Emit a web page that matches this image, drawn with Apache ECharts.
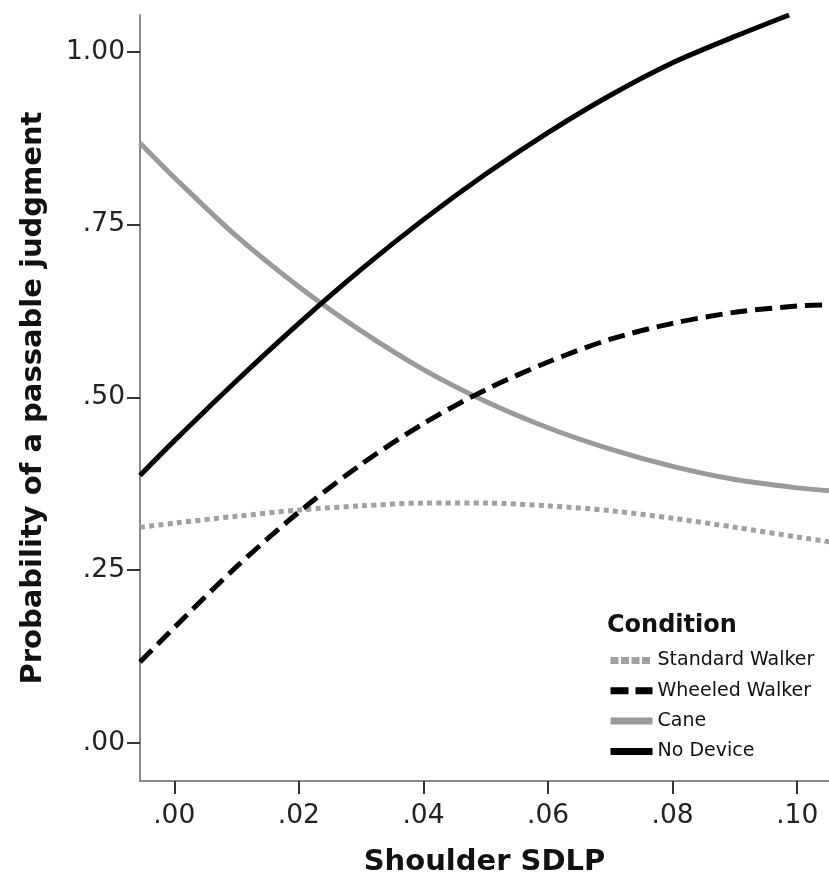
<!DOCTYPE html>
<html>
<head>
<meta charset="utf-8">
<script src="https://cdn.jsdelivr.net/npm/echarts@6/dist/echarts.min.js"></script>
<style>
  html, body { margin: 0; padding: 0; background: #fff; }
  #chart { width: 829px; height: 882px; }
</style>
</head>
<body>
<div id="chart"></div>
<script>
// x positions (Shoulder SDLP) shared by three of the curves
const xValues = [-0.0055, 0, 0.01, 0.02, 0.03, 0.04, 0.05, 0.06, 0.07, 0.08, 0.09, 0.10, 0.1051]
const standardWalker = [0.312, 0.318, 0.328, 0.337, 0.343, 0.347, 0.347, 0.343, 0.336, 0.325, 0.312, 0.298, 0.291]
const wheeledWalker = [0.117, 0.167, 0.255, 0.334, 0.403, 0.462, 0.511, 0.551, 0.584, 0.607, 0.623, 0.632, 0.634]
const cane = [0.868, 0.818, 0.733, 0.660, 0.596, 0.540, 0.494, 0.456, 0.425, 0.400, 0.381, 0.369, 0.365]

// no device runs off the top of the plot, so it has its own x list
const noDeviceX = [-0.0055, 0, 0.01, 0.02, 0.03, 0.04, 0.05, 0.06, 0.07, 0.08, 0.09, 0.0987]
const noDevice = [0.387, 0.437, 0.524, 0.607, 0.685, 0.757, 0.823, 0.883, 0.937, 0.984, 1.022, 1.053]

const xTicks = [0, 0.02, 0.04, 0.06, 0.08, 0.10]
const yTicks = [0, 0.25, 0.50, 0.75, 1.00]

const pairs = (xs, ys) => xs.map((x, i) => [x, ys[i]])
const fmt = (v) => v.toFixed(2).replace(/^0/, '')

const font = 'DejaVu Sans'
const chart = echarts.init(document.getElementById('chart'))

const axisCommon = {
  axisLine: { show: true, onZero: false, lineStyle: { color: '#8a8a8a', width: 2 } },
  splitLine: { show: false },
  nameTextStyle: { fontFamily: font, fontSize: 29, fontWeight: 'bold', color: '#111' }
}
const tickStyle = { show: true, length: 13, lineStyle: { color: '#333', width: 2 } }
const labelStyle = { formatter: fmt, fontFamily: font, fontSize: 26.5, color: '#222' }

const option = {
  animation: false,
  backgroundColor: '#fff',
  title: {
    text: 'Condition',
    left: 607,
    top: 614,
    padding: 0,
    textStyle: { fontFamily: font, fontSize: 24, fontWeight: 'bold', color: '#111' }
  },
  legend: {
    orient: 'vertical',
    left: 607,
    top: 651,
    padding: 0,
    itemWidth: 42,
    itemHeight: 14,
    itemGap: 11.3,
    selectedMode: false,
    itemStyle: { color: 'rgba(0,0,0,0)', borderWidth: 0 },
    lineStyle: { width: 7 },
    textStyle: { fontFamily: font, fontSize: 19, color: '#111' },
    data: [
      { name: 'Standard Walker', lineStyle: { width: 7, type: [8, 2.5] } },
      { name: 'Wheeled Walker', lineStyle: { width: 7, type: [18, 7] } },
      { name: 'Cane', lineStyle: { width: 7 } },
      { name: 'No Device', lineStyle: { width: 7 } }
    ]
  },
  grid: { left: 140, right: 0, top: 15, bottom: 100 },
  xAxis: Object.assign({}, axisCommon, {
    type: 'value',
    min: -0.0055,
    max: 0.1051,
    name: 'Shoulder SDLP',
    nameLocation: 'middle',
    nameGap: 67,
    axisTick: Object.assign({ customValues: xTicks }, tickStyle),
    axisLabel: Object.assign({ customValues: xTicks, margin: 22 }, labelStyle)
  }),
  yAxis: Object.assign({}, axisCommon, {
    type: 'value',
    min: -0.055,
    max: 1.053,
    name: 'Probability of a passable judgment',
    nameLocation: 'middle',
    nameGap: 92,
    axisTick: Object.assign({ customValues: yTicks }, tickStyle),
    axisLabel: Object.assign({ customValues: yTicks, margin: 15 }, labelStyle)
  }),
  series: [
    {
      name: 'Standard Walker',
      type: 'line',
      smooth: 0.3,
      symbol: 'none',
      color: '#a0a0a0',
      lineStyle: { color: '#a0a0a0', width: 5, type: [5, 4.3] },
      data: pairs(xValues, standardWalker)
    },
    {
      name: 'Cane',
      type: 'line',
      smooth: 0.3,
      symbol: 'none',
      color: '#9a9a9a',
      lineStyle: { color: '#9a9a9a', width: 5 },
      data: pairs(xValues, cane)
    },
    {
      name: 'Wheeled Walker',
      type: 'line',
      smooth: 0.3,
      symbol: 'none',
      color: '#000',
      lineStyle: { color: '#000', width: 5, type: [17, 8] },
      data: pairs(xValues, wheeledWalker)
    },
    {
      name: 'No Device',
      type: 'line',
      smooth: 0.3,
      symbol: 'none',
      color: '#000',
      lineStyle: { color: '#000', width: 5 },
      data: pairs(noDeviceX, noDevice)
    }
  ]
}

chart.setOption(option)
</script>
</body>
</html>
